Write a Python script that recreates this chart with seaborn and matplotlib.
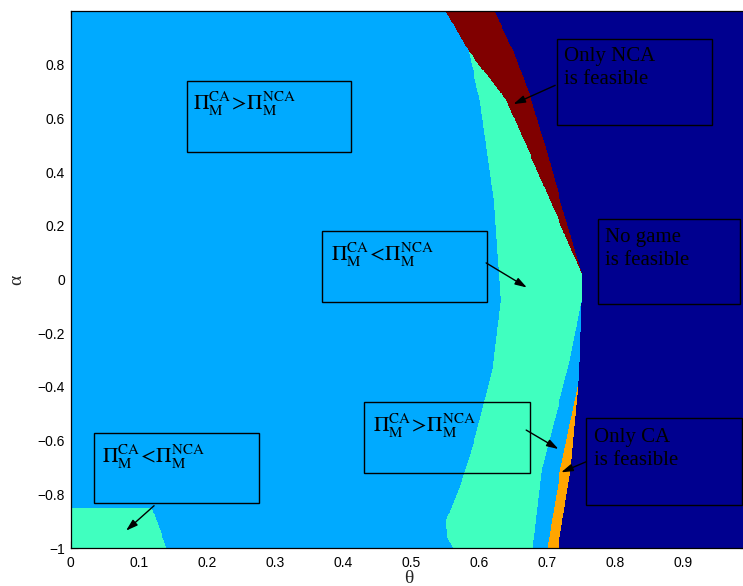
import numpy as np
import matplotlib
matplotlib.use("Agg")
import matplotlib.pyplot as plt
from matplotlib.colors import ListedColormap
from matplotlib.patches import Rectangle
import seaborn as sns

# region codes: 0 CA>NCA, 1 CA<NCA, 2 only NCA, 3 no game, 4 only CA
region_colors = ["#00AAFF", "#40FFBF", "#800000", "#00008F", "#FFA500"]

# boundaries (alpha ascending -> theta)
nogame_alpha = [-1.0, -0.71, -0.401, -0.300, 0.016, 0.295, 0.48, 0.667, 0.852, 1.0]
nogame_theta = [0.716, 0.734, 0.745, 0.747, 0.751, 0.719, 0.699, 0.677, 0.650, 0.622]

onlynca_alpha = [0.023, 0.295, 0.667, 0.852, 1.0]
onlynca_theta = [0.750, 0.704, 0.640, 0.584, 0.551]

mint_alpha = [-1.0, -0.96, -0.896, -0.784, -0.71, -0.588, -0.338, -0.077, 0.295, 0.667, 0.852]
mint_left = [0.562, 0.553, 0.552, 0.570, 0.579, 0.594, 0.619, 0.631, 0.621, 0.601, 0.584]
mintr_alpha = [-1.0, -0.71, -0.300, -0.077, 0.023, 0.295, 0.667, 0.852]
mint_right = [0.679, 0.692, 0.733, 0.750, 0.750, 0.704, 0.640, 0.584]

onlyca_alpha = [-1.0, -0.71, -0.401]
onlyca_theta = [0.700, 0.719, 0.744]

corner_alpha = [-1.0, -0.851]
corner_theta = [0.141, 0.119]

xticks = [0, 0.1, 0.2, 0.3, 0.4, 0.5, 0.6, 0.7, 0.8, 0.9]
yticks = [-1, -0.8, -0.6, -0.4, -0.2, 0, 0.2, 0.4, 0.6, 0.8]

xmax = 0.993
nx, ny = 700, 560
theta = (np.arange(nx) + 0.5) / nx * xmax
alpha = (np.arange(ny) + 0.5) / ny * 2 - 1
T, A = np.meshgrid(theta, alpha)

code = np.zeros(T.shape, dtype=int)
cl = np.interp(A, corner_alpha, corner_theta)
code[(A <= corner_alpha[-1]) & (T < cl)] = 1
ml = np.interp(A, mint_alpha, mint_left)
mr = np.interp(A, mintr_alpha, mint_right)
code[(A <= mint_alpha[-1]) & (T >= ml) & (T < mr)] = 1
rl = np.interp(A, onlynca_alpha, onlynca_theta)
code[(A >= 0.0) & (T >= rl)] = 2
ol = np.interp(A, onlyca_alpha, onlyca_theta)
code[(A <= onlyca_alpha[-1]) & (T >= ol)] = 4
db = np.interp(A, nogame_alpha, nogame_theta)
code[T >= db] = 3

sns.set_style("ticks")
plt.rcParams["mathtext.fontset"] = "stix"
plt.rcParams["xtick.direction"] = "in"
plt.rcParams["ytick.direction"] = "in"

def u(t):
    return np.asarray(t) / xmax * nx

def v(a):
    return (np.asarray(a) + 1) / 2 * ny

fig = plt.figure(figsize=(7.43, 5.86), dpi=100)
ax = fig.add_axes([0.0952, 0.0648, 0.91, 0.9164])
sns.heatmap(code, cmap=ListedColormap(region_colors), vmin=-0.5, vmax=4.5,
            cbar=False, xticklabels=False, yticklabels=False, ax=ax, rasterized=True)
ax.set_xlim(0, nx)
ax.set_ylim(0, ny)
for s in ax.spines.values():
    s.set_visible(True)
    s.set_color("black")
    s.set_linewidth(0.9)

ax.set_xticks(u(xticks))
ax.set_xticklabels([f"{t:g}" for t in xticks])
ax.set_yticks(v(yticks))
ax.set_yticklabels([f"{t:g}".replace("-", "\u2212") for t in yticks])
ax.tick_params(top=True, right=True, length=5, width=0.8,
               labelsize=10, colors="black")
ax.tick_params(axis="x", pad=6)
ax.tick_params(axis="y", pad=4)
for lab in ax.get_xticklabels() + ax.get_yticklabels():
    lab.set_family("Liberation Sans")
    lab.set_rotation(0)

ax.set_xlabel("\u03b8", family="Liberation Serif", fontsize=14, labelpad=0)
ax.set_ylabel("\u03b1", family="Liberation Serif", fontsize=14, labelpad=9)

# boxes (theta0, alpha_bottom, theta1, alpha_top)
boxes = [(0.1704, 0.475, 0.4118, 0.738), (0.3696, -0.0845, 0.6111, 0.180),
         (0.714, 0.577, 0.9417, 0.897), (0.7742, -0.093, 0.9833, 0.227),
         (0.4313, -0.7219, 0.6748, -0.4577), (0.757, -0.840, 0.9858, -0.517),
         (0.0342, -0.8335, 0.2766, -0.573)]
for x0, y0, x1, y1 in boxes:
    ax.add_patch(Rectangle((u(x0), v(y0)), u(x1) - u(x0), v(y1) - v(y0),
                           fill=False, ec="black", lw=1.0, zorder=5))

gt = r"$\Pi_{\mathrm{M}}^{\mathrm{CA}}\!>\!\Pi_{\mathrm{M}}^{\mathrm{NCA}}$"
lt = r"$\Pi_{\mathrm{M}}^{\mathrm{CA}}\!<\!\Pi_{\mathrm{M}}^{\mathrm{NCA}}$"
maths = [(0.1797, 0.630, gt), (0.3824, 0.068, lt), (0.4437, -0.568, gt),
         (0.0464, -0.6835, lt)]
for x, y, s in maths:
    ax.text(u(x), v(y), s, fontsize=15.5, va="baseline", ha="left",
            color="black", zorder=6)

labels = [(0.7251, 0.812, "Only NCA"), (0.7251, 0.729, "is feasible"),
          (0.785, 0.140, "No game"), (0.785, 0.053, "is feasible"),
          (0.7688, -0.604, "Only CA"), (0.7688, -0.691, "is feasible")]
for x, y, s in labels:
    ax.text(u(x), v(y), s, family="Liberation Serif", fontsize=15,
            va="baseline", ha="left", color="black", zorder=6)

arrows = [((0.7115, 0.7232), (0.6502, 0.6533)), ((0.6101, 0.0618), (0.6699, -0.0298)),
          ((0.6689, -0.5607), (0.7163, -0.6314)), ((0.757, -0.6787), (0.7203, -0.7181)),
          ((0.1224, -0.8424), (0.0812, -0.9354))]
for (tx, ty), (hx, hy) in arrows:
    ax.annotate("", xy=(u(hx), v(hy)), xytext=(u(tx), v(ty)), zorder=6,
                arrowprops=dict(arrowstyle="-|>,head_length=0.7,head_width=0.22",
                                color="black", lw=1.0, shrinkA=0, shrinkB=0))

fig.savefig("out.png", dpi=100)
